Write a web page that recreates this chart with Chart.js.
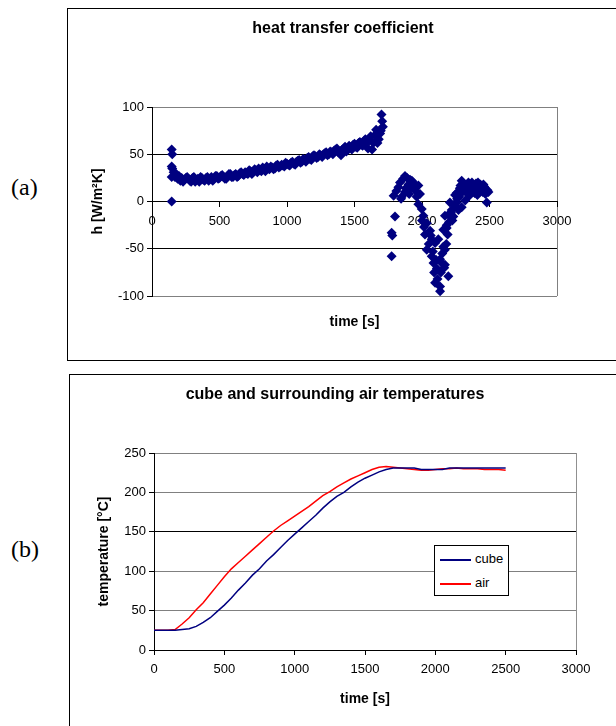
<!DOCTYPE html>
<html>
<head>
<meta charset="utf-8">
<script src="https://cdn.jsdelivr.net/npm/chart.js@4.4.1/dist/chart.umd.min.js"></script>
<style>
  body { margin: 0; background: #fff; width: 616px; height: 726px; overflow: hidden; position: relative; }
  .box { position: absolute; border: 1px solid #000; box-sizing: border-box; }
  .tag { position: absolute; font-family: 'Liberation Serif', serif; font-size: 24px; }
  canvas { position: absolute; }
  #legend { position: absolute; left: 434px; top: 545px; width: 75px; height: 51px; border: 1px solid #000;
            background: #fff; box-sizing: border-box; font: 13px 'Liberation Sans', Arial, sans-serif; }
  #legend .row { position: absolute; left: 5px; height: 16px; line-height: 16px; white-space: nowrap; }
  #legend .swatch { display: inline-block; width: 31px; height: 2px; vertical-align: middle; margin-right: 4px; }
</style>
</head>
<body>
<div class="tag" style="left:11px; top:174px;">(a)</div>
<div class="box" style="left:67px; top:8px; width:620px; height:353px;"></div>
<canvas id="hChart" width="548" height="351" style="left:68px; top:9px;"></canvas>

<div class="tag" style="left:11px; top:536px;">(b)</div>
<div class="box" style="left:69px; top:374px; width:620px; height:400px;"></div>
<canvas id="tempChart" width="546" height="351" style="left:70px; top:375px;"></canvas>
<div id="legend"></div>

<script>
// chart (a): heat transfer coefficient
const hTime = [
  146, 146, 150, 146, 150, 146, 160, 170, 180, 190, 200, 210, 220, 240, 260, 280, 300, 320, 340, 360,
  380, 400, 420, 440, 460, 480, 500, 520, 540, 560, 580, 600, 620, 640, 660, 680, 700, 720, 740, 760,
  780, 800, 820, 840, 860, 880, 900, 920, 940, 960, 980, 1000, 1020, 1040, 1060, 1080, 1100, 1120, 1140, 1160,
  1180, 1200, 1220, 1240, 1260, 1280, 1300, 1320, 1340, 1360, 1380, 1400, 1420, 1440, 1460, 1480, 1500, 1520, 1540, 1560,
  1580, 1600, 1620, 1630, 1640, 1660, 1670, 1680, 1690, 1695, 1700, 1705, 1710,
  1775, 1775, 1780, 1800, 1790, 1810, 1825, 1837, 1845, 1850, 1860, 1874, 1874, 1890, 1900, 1911, 1920, 1935, 1948, 1960,
  1973, 1985, 1973, 1998, 2010, 2035, 2022, 2060, 2035, 2072, 2097, 2072, 2085, 2110, 2097, 2134, 2134, 2146, 2134, 2170,
  2195, 2170, 2158, 2121, 2158, 2183, 2195, 2170, 2220, 2207, 2245, 2257, 2270, 2294, 2232, 2183, 2320, 2257, 2245,
  2270, 2280, 2294, 2300, 2310, 2320, 2330, 2340, 2344, 2360, 2370, 2380, 2390, 2393, 2400, 2410, 2420, 2430, 2442, 2450,
  2460, 2467, 2470, 2480, 2485, 2492,
  1880, 1905, 1925, 1955, 2000, 2015, 2050, 2065, 2080, 2090, 2105, 2115, 2140, 2150, 2165, 2180, 2190, 2200, 2215, 2225,
  2240, 2260, 2275, 2285, 2350, 2375, 2405, 2415, 2435, 2455
];
const hCoef = [
  0, 55, 50, 37, 35, 26, 31, 26, 29, 24, 27, 22, 25, 23, 26, 22, 25, 21, 24, 26,
  23, 25, 22, 26, 24, 27, 25, 28, 24, 27, 29, 26, 29, 27, 31, 28, 30, 33, 29, 34,
  31, 33, 36, 32, 35, 37, 34, 38, 36, 39, 37, 40, 38, 42, 39, 43, 41, 45, 42, 47,
  44, 49, 46, 50, 47, 51, 49, 53, 50, 55, 52, 49, 56, 53, 59, 55, 61, 57, 63, 59,
  66, 56, 69, 55, 62, 76, 62, 66, 72, 75, 92, 85, 79,
  -58, -33, -36, -16, 6, 11, 15, 20, 3, 5, 24, 27, 10, 25, 18, 23, 15, 20, 12, 5,
  17, 8, -3, -8, -15, -23, -35, -31, -51, -40, -44, -58, -65, -71, -86, -90, -95, -65, -61, -67,
  -79, -51, -48, -40, -30, -25, -14, -15, -9, -1, -5, -1, -9, -6, -16, -28, 1, 9, 7,
  10, 14, 22, 10, 18, 14, 13, 8, 20, 16, 20, 12, 9, 17, 19, 7, 14, 18, 17, 10,
  16, 14, 8, -1, 12, 10,
  14, 8, 22, 16, -20, -27, -45, -36, -53, -75, -62, -82, -75, -55, -70, -45, -35, -22, -12, -20,
  -3, 3, 5, 17, 6, 10, 13, 20, 13, 18
];
// extra readings in the dense band between 230 s and 1700 s
const bandTime = [
  230, 250, 270, 290, 310, 330, 350, 370, 390, 410,
  430, 450, 470, 490, 510, 530, 550, 570, 590, 610,
  630, 650, 670, 690, 710, 730, 750, 770, 790, 810,
  830, 850, 870, 890, 910, 930, 950, 970, 990, 1010,
  1030, 1050, 1070, 1090, 1110, 1130, 1150, 1170, 1190, 1210,
  1230, 1250, 1270, 1290, 1310, 1330, 1350, 1370, 1390, 1410,
  1430, 1450, 1470, 1490, 1510, 1530, 1550, 1570, 1590, 1610,
  1650, 1675
];
const bandCoef = [
  21, 25, 24, 21, 26, 23, 21, 25, 22, 26,
  24, 22, 27, 24, 27, 26, 24, 29, 26, 28,
  26, 30, 29, 31, 29, 32, 31, 33, 35, 32,
  34, 37, 34, 36, 35, 39, 37, 38, 41, 39,
  41, 40, 42, 44, 42, 44, 46, 45, 48, 48,
  47, 49, 50, 52, 50, 52, 54, 56, 53, 55,
  58, 56, 57, 60, 58, 62, 60, 64, 62, 65,
  70, 74
];

// chart (b): cube and air temperatures
const tempTime = [
  0, 50, 100, 150, 200, 250, 300, 350, 400, 450, 500, 550, 600, 650, 700, 750, 800, 850, 900, 950,
  1000, 1050, 1100, 1150, 1200, 1250, 1300, 1350, 1400, 1450, 1500, 1550, 1600, 1650, 1700, 1750, 1800, 1850, 1900, 1950,
  2000, 2050, 2100, 2150, 2200, 2250, 2300, 2350, 2400, 2450, 2500
];
const cubeTemp = [
  25, 25, 25, 25, 26, 27, 30, 35, 41, 49, 57, 66, 76, 85, 95, 103, 113, 121, 130, 139,
  147, 155, 163, 171, 180, 188, 195, 200, 207, 213, 218, 222, 226, 229, 231, 231, 231, 231, 229, 229,
  229, 229, 231, 231, 231, 231, 231, 231, 231, 231, 231
];
const airTemp = [
  25, 25, 25, 26, 33, 41, 51, 60, 71, 82, 93, 103, 111, 119, 127, 135, 143, 151, 158, 164,
  170, 176, 182, 189, 196, 201, 207, 212, 217, 221, 225, 229, 232, 233, 232, 231, 230, 229, 228, 228,
  229, 230, 230, 231, 230, 230, 230, 229, 229, 229, 228
];

Chart.defaults.font.family = "'Liberation Sans', Arial, sans-serif";
Chart.defaults.color = '#000';

const tickFont = { size: 13 };
const axisTitleFont = { size: 14, weight: 'bold' };
const titleFont = { size: 16, weight: 'bold' };
const plain = v => String(v);

const hPoints = hTime.map((t, i) => ({ x: t, y: hCoef[i] }))
    .concat(bandTime.map((t, i) => ({ x: t, y: bandCoef[i] })));

new Chart(document.getElementById('hChart'), {
    type: 'scatter',
    data: {
        datasets: [{
            label: 'h',
            data: hPoints,
            pointStyle: 'rectRot',
            pointRadius: 5,
            backgroundColor: '#000080',
            borderColor: '#000080',
            borderWidth: 0
        }]
    },
    options: {
        responsive: false,
        animation: false,
        layout: { padding: { left: 20, right: 18, top: 0, bottom: 64 } },
        plugins: {
            legend: { display: false },
            tooltip: { enabled: false },
            title: { display: true, text: 'heat transfer coefficient', font: titleFont, padding: { top: 10.4, bottom: 68.4 } }
        },
        scales: {
            x: {
                type: 'linear', min: 0, max: 3000, position: { y: 0 },
                ticks: { stepSize: 500, font: tickFont, padding: 7, maxRotation: 0, callback: plain },
                grid: {
                    color: c => (c.tick && c.tick.value === 3000) ? '#808080' : 'rgba(0,0,0,0)',
                    tickColor: '#000', tickLength: 5
                },
                border: { color: '#000' },
                title: { display: true, text: 'time [s]', font: axisTitleFont, padding: 0 },
                afterFit: s => { s.height = 129.4; }
            },
            y: {
                min: -100, max: 100,
                ticks: { stepSize: 50, font: tickFont, padding: 3, callback: plain },
                grid: {
                    color: c => (c.tick && Math.abs(c.tick.value) === 100) ? '#808080' : '#000',
                    tickColor: '#000', tickLength: 5
                },
                border: { color: '#000' },
                title: { display: true, text: 'h [W/m²K]', font: axisTitleFont, padding: { top: 1.6, bottom: 0 } },
                afterFit: s => { s.width = 64; }
            },
            // empty right axis: only keeps the chart title centred like the original
            yPad: {
                position: 'right',
                ticks: { display: false },
                grid: { display: false },
                border: { display: false },
                afterFit: s => { s.width = 41; }
            }
        }
    }
});

const tempChart = new Chart(document.getElementById('tempChart'), {
    type: 'line',
    data: {
        datasets: [
            {
                label: 'cube',
                data: tempTime.map((t, i) => ({ x: t, y: cubeTemp[i] })),
                borderColor: '#000080',
                borderWidth: 1.5,
                pointRadius: 0
            },
            {
                label: 'air',
                data: tempTime.map((t, i) => ({ x: t, y: airTemp[i] })),
                borderColor: '#ff0000',
                borderWidth: 1.5,
                pointRadius: 0
            }
        ]
    },
    options: {
        responsive: false,
        animation: false,
        layout: { padding: { left: 24, right: 40, top: 0, bottom: 16 } },
        plugins: {
            legend: { display: false },
            tooltip: { enabled: false },
            title: { display: true, text: 'cube and surrounding air temperatures', font: titleFont, padding: { top: 10.4, bottom: 48.4 } }
        },
        scales: {
            x: {
                type: 'linear', min: 0, max: 3000, position: 'bottom',
                ticks: { stepSize: 500, font: tickFont, padding: 7, maxRotation: 0, callback: plain },
                grid: {
                    color: c => (c.tick && c.tick.value === 3000) ? '#909090' : 'rgba(0,0,0,0)',
                    tickColor: '#000', tickLength: 5
                },
                border: { color: '#000' },
                title: { display: true, text: 'time [s]', font: axisTitleFont, padding: { top: 0, bottom: 2.6 } },
                afterFit: s => { s.height = 60; }
            },
            y: {
                min: 0, max: 250,
                ticks: { stepSize: 50, font: tickFont, padding: 3, callback: plain },
                grid: {
                    color: c => (c.tick && (c.tick.value === 150 || c.tick.value === 0)) ? '#000' : '#808080',
                    tickColor: '#000', tickLength: 5
                },
                border: { color: '#000' },
                title: { display: true, text: 'temperature [°C]', font: axisTitleFont, padding: { top: 1.6, bottom: 0 } },
                afterFit: s => { s.width = 60; }
            }
        }
    }
});

// legend box inside the plot, as in the original
const legend = document.getElementById('legend');
tempChart.data.datasets.forEach((ds, i) => {
    const row = document.createElement('div');
    row.className = 'row';
    row.style.top = (5 + i * 24) + 'px';
    const sw = document.createElement('span');
    sw.className = 'swatch';
    sw.style.background = ds.borderColor;
    row.appendChild(sw);
    row.appendChild(document.createTextNode(ds.label));
    legend.appendChild(row);
});
</script>
</body>
</html>
